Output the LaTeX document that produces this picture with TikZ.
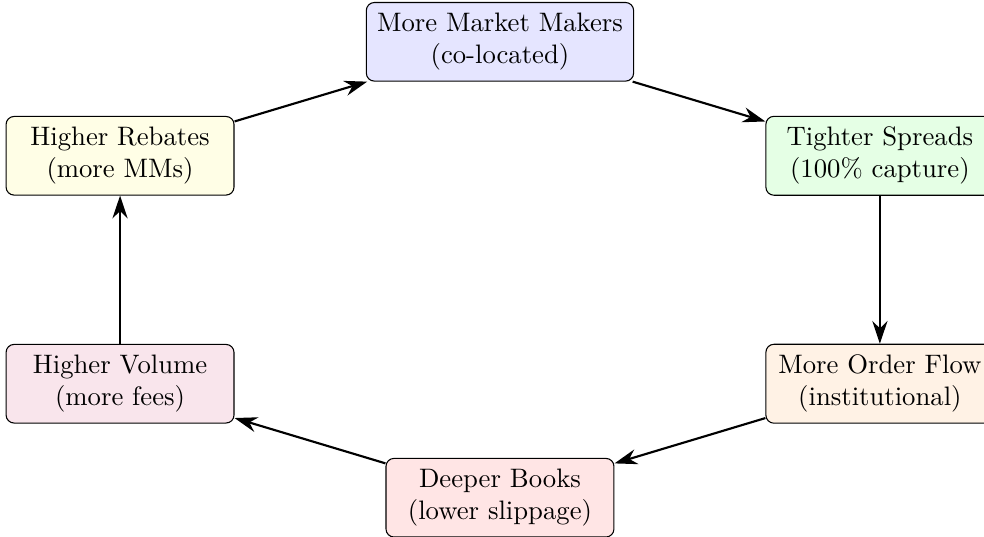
\documentclass[tikz,border=0pt]{standalone}
\usetikzlibrary{arrows.meta}
\begin{document}
\begin{tikzpicture}[
  cycbox/.style={draw, rounded corners=3pt, align=center, minimum width=3cm, inner sep=4pt},
  cycarrow/.style={-{Stealth[length=3mm,width=2mm]}, thick}
]
\useasboundingbox (-6.58,-3.51) rectangle (6.37,3.55);
\node[cycbox, fill=blue!10]   (mm)  at (0,3)     {More Market Makers\\(co-located)};
\node[cycbox, fill=green!10]  (ts)  at (5,1.5)   {Tighter Spreads\\(100\% capture)};
\node[cycbox, fill=orange!10] (of)  at (5,-1.5)  {More Order Flow\\(institutional)};
\node[cycbox, fill=red!10]    (db)  at (0,-3)    {Deeper Books\\(lower slippage)};
\node[cycbox, fill=purple!10] (hv)  at (-5,-1.5) {Higher Volume\\(more fees)};
\node[cycbox, fill=yellow!10] (hr)  at (-5,1.5)  {Higher Rebates\\(more MMs)};
\draw[cycarrow] (mm) -- (ts);
\draw[cycarrow] (ts) -- (of);
\draw[cycarrow] (of) -- (db);
\draw[cycarrow] (db) -- (hv);
\draw[cycarrow] (hv) -- (hr);
\draw[cycarrow] (hr) -- (mm);
\end{tikzpicture}
\end{document}
